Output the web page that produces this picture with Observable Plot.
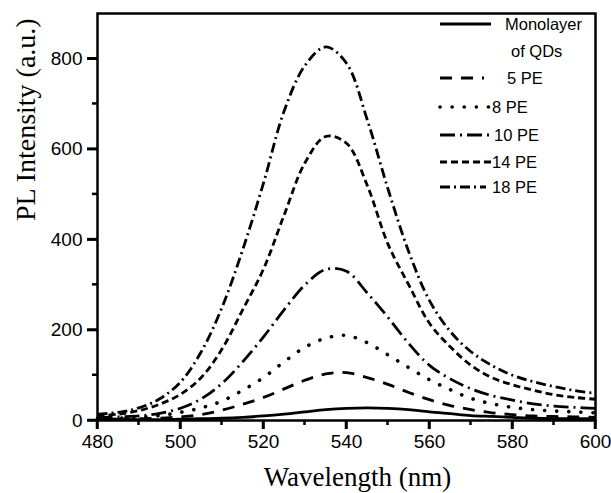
<!DOCTYPE html>
<html><head><meta charset="utf-8">
<script src="https://cdn.jsdelivr.net/npm/d3@7"></script>
<script src="https://cdn.jsdelivr.net/npm/@observablehq/plot@0.6"></script>
<style>
body{margin:0;background:#fff;}
#chart svg{display:block;}
</style>
</head><body><div id="chart"></div>
<script>
const wavelength = [480,485,490,495,500,505,510,515,520,525,530,535,540,545,550,555,560,565,570,575,580,585,590,595,600];
const monolayer = [4,3,2,2,3,4,5,7,10,14,19,24,27,28,27,24,19,15,11,9,7,5,4,4,4];
const pe5  = [4,3,4,5,8,13,23,36,51,70,89,103,106,95,80,62,46,33,24,17,13,10,9,8,7];
const pe8  = [5,5,7,11,18,28,43,67,95,130,162,182,188,172,145,117,90,68,49,37,29,24,21,19,17];
const pe10 = [6,8,10,16,27,48,82,130,185,245,300,334,330,282,228,170,122,92,70,55,45,37,32,29,27];
const pe14 = [10,14,22,36,58,95,158,245,335,455,570,628,613,520,390,300,215,163,122,95,79,67,57,51,47];
const pe18 = [14,18,28,48,85,152,250,378,525,685,785,826,790,665,512,373,265,197,152,122,100,86,75,66,60];

const seriesNames = ["Monolayer of QDs", "5 PE", "8 PE", "10 PE", "14 PE", "18 PE"];
const seriesValues = [monolayer, pe5, pe8, pe10, pe14, pe18];
const legendLines = [["Monolayer", "of QDs"], ["5 PE"], ["8 PE"], ["10 PE"], ["14 PE"], ["18 PE"]];

const xMajorTicks = [480,500,520,540,560,580,600];
const xMinorTicks = [490,510,530,550,570,590];
const yMajorTicks = [0,200,400,600,800];
const yMinorTicks = [100,300,500,700];
const xTitle = "Wavelength (nm)";
const yTitle = "PL Intensity (a.u.)";

const dashStyles = ["none", "12,9", "0.1,12", "15,5,2,5", "7,4", "10,4,2,4"];
const caps = ["butt", "butt", "round", "butt", "butt", "butt"];
const widths = [2.8, 2.8, 3.6, 2.8, 2.8, 2.8];

const rows = seriesNames.flatMap((s, i) => wavelength.map((w, j) => ({series: s, wl: w, v: seriesValues[i][j]})));

const sans = "'Liberation Sans', Arial, sans-serif";
const serif = "'Liberation Serif', 'Times New Roman', serif";

const lineMarks = seriesNames.map((s, i) => Plot.line(rows.filter(d => d.series === s), {
  x: "wl", y: "v", stroke: "black", strokeWidth: widths[i],
  strokeDasharray: dashStyles[i], strokeLinecap: caps[i], curve: "catmull-rom"
}));

const plot = Plot.plot({
  width: 611, height: 493,
  marginLeft: 97, marginRight: 16, marginTop: 13, marginBottom: 73,
  style: {fontFamily: sans, fontSize: "19px", background: "white", color: "black"},
  x: {domain: [480, 600]},
  y: {domain: [0, 900]},
  marks: [
    ...lineMarks,
    Plot.axisX({ticks: xMajorTicks, tickSize: 9, tickPadding: 5, tickFormat: d => String(d), label: null, fontSize: 19, stroke: "black", strokeWidth: 2.5}),
    Plot.axisY({ticks: yMajorTicks, tickSize: 10, tickPadding: 5, tickFormat: d => String(d), label: null, fontSize: 19, stroke: "black", strokeWidth: 2.5}),
    Plot.frame({stroke: "black", strokeWidth: 2.5}),
    Plot.text([xTitle], {text: d => d, frameAnchor: "bottom", dx: 11, dy: 57, fontSize: 27, fontFamily: serif, lineAnchor: "middle"}),
    Plot.text([yTitle], {text: d => d, frameAnchor: "left", rotate: -90, dx: -71, dy: 4, fontSize: 28, fontFamily: serif, lineAnchor: "middle"})
  ]
});

const svg = d3.select(plot);
const sx = plot.scale("x"), sy = plot.scale("y");
const [x0] = sx.range, [y0] = sy.range;  // left edge, bottom edge
// explicit bold tick marks drawn through Plot's scales
const tg = svg.append("g").attr("stroke", "black").attr("stroke-width", 2.5);
xMajorTicks.forEach(t => { const px = sx.apply(t); tg.append("line").attr("x1", px).attr("x2", px).attr("y1", y0).attr("y2", y0 + 9); });
xMinorTicks.forEach(t => { const px = sx.apply(t); tg.append("line").attr("x1", px).attr("x2", px).attr("y1", y0).attr("y2", y0 + 5); });
yMajorTicks.forEach(t => { const py = sy.apply(t); tg.append("line").attr("x1", x0).attr("x2", x0 - 10).attr("y1", py).attr("y2", py); });
yMinorTicks.forEach(t => { const py = sy.apply(t); tg.append("line").attr("x1", x0).attr("x2", x0 - 5).attr("y1", py).attr("y2", py); });

// legend (inside frame, top right)
const lg = svg.append("g").attr("font-family", sans).attr("font-size", 16.5).attr("fill", "black").attr("text-anchor", "start");
const lineY = [24, 78, 107, 135, 162, 187];
const lineX2 = [491, 484, 492, 492, 492, 486];
const textX = [[505, 511], [507], [492], [494], [492], [492]];
seriesNames.forEach((s, i) => {
  lg.append("line").attr("x1", 440).attr("x2", lineX2[i]).attr("y1", lineY[i]).attr("y2", lineY[i])
    .attr("stroke", "black").attr("stroke-width", widths[i])
    .attr("stroke-dasharray", dashStyles[i] === "none" ? null : dashStyles[i])
    .attr("stroke-linecap", caps[i]);
  legendLines[i].forEach((t, k) => {
    lg.append("text").attr("x", textX[i][k]).attr("y", lineY[i] + k * 27).attr("dy", "0.35em")
      .attr("text-anchor", "start").text(t);
  });
});

document.getElementById("chart").appendChild(plot);
</script>
</body></html>
